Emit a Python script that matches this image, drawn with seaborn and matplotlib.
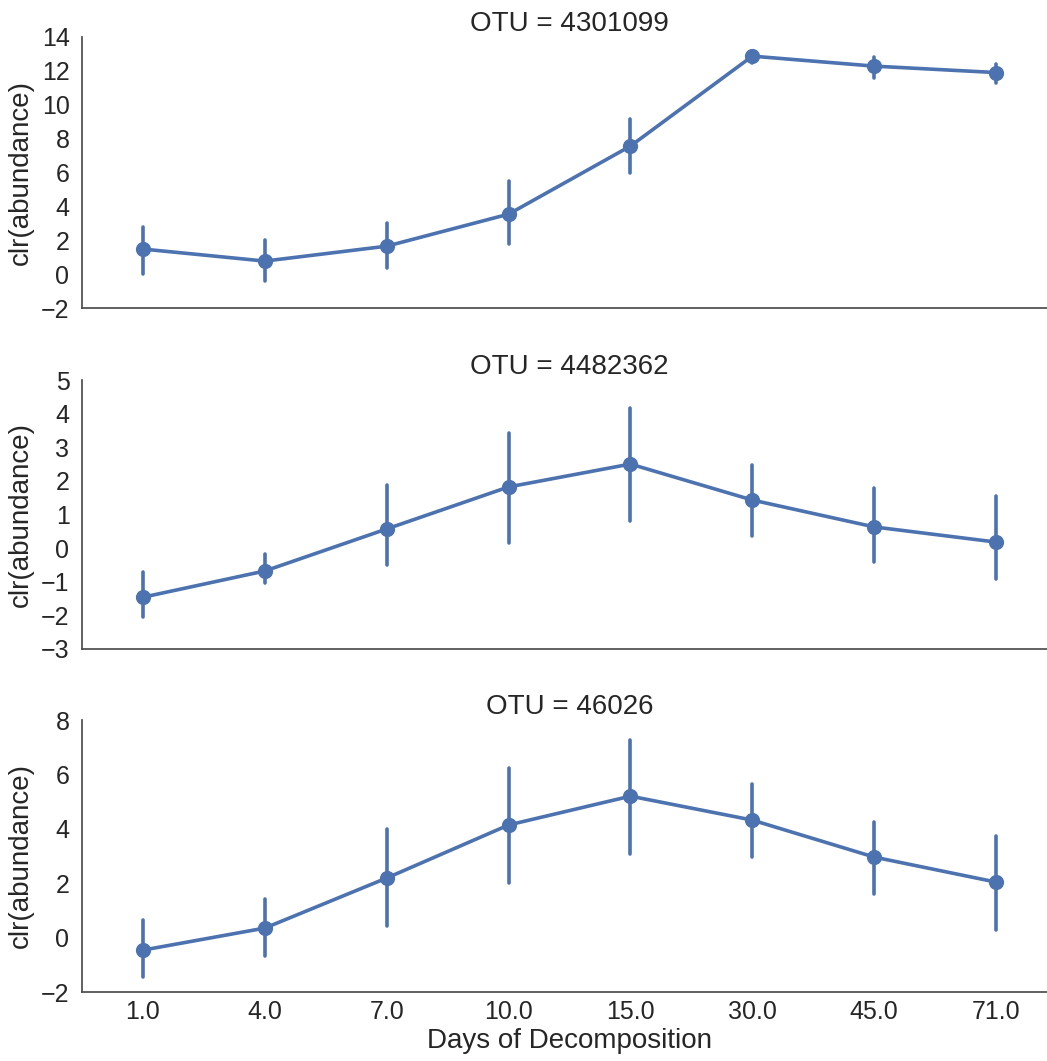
import numpy as np
import pandas as pd
import matplotlib
matplotlib.use("Agg")
import matplotlib.pyplot as plt
import seaborn as sns

days = ["1.0", "4.0", "7.0", "10.0", "15.0", "30.0", "45.0", "71.0"]
otus = ["4301099", "4482362", "46026"]

# point estimates, lower and upper error-bar ends, per OTU
mean_4301099 = [1.48, 0.77, 1.65, 3.54, 7.56, 12.87, 12.28, 11.90]
low_4301099 = [0.00, -0.40, 0.35, 1.77, 6.00, 12.45, 11.60, 11.30]
high_4301099 = [2.80, 2.00, 3.00, 5.50, 9.15, 13.20, 12.80, 12.40]

mean_4482362 = [-1.46, -0.68, 0.57, 1.82, 2.50, 1.43, 0.63, 0.18]
low_4482362 = [-2.05, -1.04, -0.50, 0.15, 0.80, 0.36, -0.42, -0.92]
high_4482362 = [-0.71, -0.18, 1.88, 3.42, 4.17, 2.47, 1.79, 1.55]

mean_46026 = [-0.46, 0.35, 2.19, 4.14, 5.20, 4.32, 2.96, 2.04]
low_46026 = [-1.45, -0.68, 0.43, 2.00, 3.07, 2.96, 1.60, 0.27]
high_46026 = [0.65, 1.41, 4.00, 6.24, 7.26, 5.65, 4.25, 3.72]

yticks = {
    "4301099": [-2, 0, 2, 4, 6, 8, 10, 12, 14],
    "4482362": [-3, -2, -1, 0, 1, 2, 3, 4, 5],
    "46026": [-2, 0, 2, 4, 6, 8],
}

series = {
    "4301099": (mean_4301099, low_4301099, high_4301099),
    "4482362": (mean_4482362, low_4482362, high_4482362),
    "46026": (mean_46026, low_46026, high_46026),
}

rows = []
for otu in otus:
    m, lo, hi = series[otu]
    for d, a, b, c in zip(days, m, lo, hi):
        for v in (b, a, c):
            rows.append({"OTU": otu, "Days of Decomposition": d, "clr(abundance)": v})
df = pd.DataFrame(rows)

sns.set_theme(style="white")
plt.rcParams["font.family"] = ["Liberation Sans", "DejaVu Sans"]
plt.rcParams["axes.edgecolor"] = "0.3"

color = "#4C72B0"
fig = plt.figure(figsize=(10.47, 10.61), dpi=100)
W, H = 1047.0, 1061.0
left = 82 / W
width = 975 / W
panels = [(37, 308), (380, 649), (720, 992)]

for i, otu in enumerate(otus):
    top, bot = panels[i]
    ax = fig.add_axes([left, 1 - bot / H, width, (bot - top) / H])
    sub = df[df["OTU"] == otu]
    sns.pointplot(
        data=sub, x="Days of Decomposition", y="clr(abundance)", order=days,
        estimator="median", errorbar=lambda x: (x.min(), x.max()),
        color=color, ax=ax, markersize=9, linewidth=2.6, err_kws={"linewidth": 2.6},
    )
    yt = yticks[otu]
    ax.set_ylim(yt[0], yt[-1])
    ax.set_yticks(yt)
    ax.set_xlim(-0.5, 7.5)
    ax.set_title(f"OTU = {otu}", fontsize=20, pad=4)
    ax.set_ylabel("clr(abundance)", fontsize=20, labelpad=5)
    ax.tick_params(axis="y", labelsize=18, length=0, pad=9)
    ax.tick_params(axis="x", labelsize=18, length=0, pad=6)
    sns.despine(ax=ax)
    if i < 2:
        ax.set_xlabel("")
        ax.set_xticklabels([])
    else:
        ax.set_xlabel("Days of Decomposition", fontsize=20, labelpad=3)

fig.savefig("out.png", dpi=100)
